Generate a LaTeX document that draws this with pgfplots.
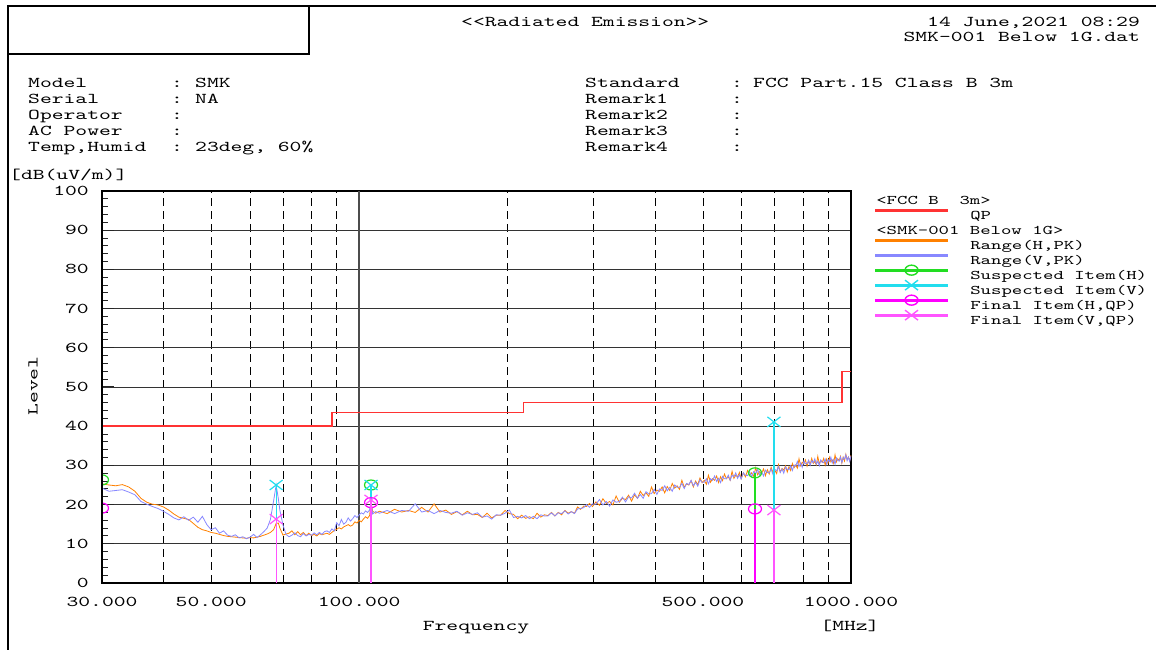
\documentclass[border=0pt]{standalone}
\usepackage{fontspec}
\usepackage{pgfplots}
\pgfplotsset{compat=1.18}
\usepackage{pgfplotstable}
\newfontfamily\monofont{lmmono10-regular.otf}[FakeStretch=1.5]
\newcommand\fA{\monofont\fontsize{15}{16}\selectfont}
\newcommand\fL{\monofont\fontsize{13.2}{15}\selectfont}
\definecolor{cH}{HTML}{FF8000}
\definecolor{cV}{HTML}{8888FF}
\definecolor{cLim}{HTML}{FF3333}
\definecolor{cSH}{HTML}{22DD22}
\definecolor{cSV}{HTML}{22DDEE}
\definecolor{cFH}{HTML}{FF00FF}
\definecolor{cFV}{HTML}{FF55FF}
\pgfdeclareplotmark{eo}{%
  \pgfpathellipse{\pgfpointorigin}{\pgfpoint{1.3\pgfplotmarksize}{0pt}}{\pgfpoint{0pt}{\pgfplotmarksize}}%
  \pgfusepathqstroke}
\pgfdeclareplotmark{ex}{%
  \pgfpathmoveto{\pgfpoint{-1.3\pgfplotmarksize}{-\pgfplotmarksize}}%
  \pgfpathlineto{\pgfpoint{1.3\pgfplotmarksize}{\pgfplotmarksize}}%
  \pgfpathmoveto{\pgfpoint{-1.3\pgfplotmarksize}{\pgfplotmarksize}}%
  \pgfpathlineto{\pgfpoint{1.3\pgfplotmarksize}{-\pgfplotmarksize}}%
  \pgfusepathqstroke}

\pgfplotstableread{
f h v
30 25.3 24.2
31 25.0 23.4
32 24.8 23.6
33 25.1 23.8
34 24.5 23.2
35 23.4 22.5
36 21.6 20.8
37 20.6 20.1
38 20.1 19.5
39 19.9 19.0
40 19.4 18.3
41 18.6 17.5
42 17.6 16.6
43 16.8 16.1
44 16.5 16.9
45 16.2 16.0
46 15.2 16.8
47 14.2 15.5
48 13.6 17.0
49 13.3 14.9
50 12.9 13.6
51 12.7 14.1
52 12.4 12.7
53 12.1 13.3
54 11.9 12.2
55 11.8 11.9
56 11.7 12.3
57 11.6 11.5
58 11.5 11.8
59 11.4 11.3
60 11.6 11.7
61 11.5 12.4
62 11.7 11.6
63 11.9 12.3
64 12.2 13.1
65 12.5 14.0
66 12.9 16.2
67 13.6 21.0
67.8 15.2 25.0
68.5 15.3 21.5
69 14.0 18.5
70 12.2 14.8
71 12.5 12.4
72 12.7 11.8
73 13.3 12.2
74 12.3 12.8
75 13.1 12.1
76 12.3 11.8
77 12.9 12.6
78 12.1 12.0
79 12.7 12.4
80 12.1 12.2
81 12.4 12.8
82 12.0 12.3
83 12.6 12.9
84 12.3 12.4
85 12.5 13.1
86 12.7 13.3
87 12.4 12.9
88 12.9 13.8
89 13.4 13.3
90 13.7 15.4
91 14.1 14.6
92 13.8 16.2
93 14.3 15.0
94 14.6 15.5
95 14.9 16.6
96 14.5 15.8
97 14.8 16.4
98 15.6 17.2
99 15.3 16.7
100 16.0 17.4
101 15.6 17.9
102 16.3 17.6
103 16.9 18.4
104 16.5 18.0
105 17.2 18.6
105.7 20.5 21.0
106.5 18.3 17.6
108 17.8 18.2
110 18.3 17.8
114 17.7 18.5
118 18.8 17.7
122 18.1 18.5
126 18.5 18.3
130 18.0 20.2
134 19.3 18.1
138 18.1 18.5
142 20.2 17.7
146 18.1 18.5
150 18.6 18.0
154 17.5 17.8
158 18.2 18.3
162 17.4 17.3
166 18.3 17.9
170 17.4 17.5
174 17.5 17.9
178 16.7 16.8
182 17.8 17.1
186 16.6 16.3
190 17.3 17.4
194 17.3 17.3
198 18.5 17.8
202 17.7 18.6
206 17.5 16.7
210 16.4 17.0
214 17.3 16.6
218 16.5 17.2
222 16.9 16.4
226 16.4 17.0
230 17.8 16.4
234 16.8 17.4
238 17.4 17.1
242 17.2 17.1
246 18.0 17.9
250 17.1 17.1
254 18.0 17.9
258 17.4 17.7
262 18.5 18.4
266 17.8 17.6
270 18.2 18.2
274 17.8 17.7
278 19.4 18.9
282 18.8 19.0
286 19.6 19.2
290 19.5 20.0
294 20.3 19.3
298 19.5 20.2
303 20.7 20.1
308 19.8 21.3
313 21.5 19.9
318 20.3 20.8
323 20.8 19.6
328 19.9 21.2
333 22.2 20.6
338 20.6 20.8
343 21.6 21.9
348 21.3 20.7
353 22.4 22.0
358 20.9 21.7
363 22.5 22.9
368 21.6 21.6
373 23.4 22.6
378 22.3 21.6
383 23.0 23.3
388 22.1 22.7
393 24.5 22.8
398 22.8 23.9
403 23.7 22.6
408 23.4 24.0
413 24.5 23.6
418 23.0 24.8
423 24.6 23.5
428 23.6 24.4
433 25.4 23.4
438 24.2 25.0
443 24.8 24.4
448 23.9 24.4
453 26.2 25.4
458 24.4 24.1
463 25.3 25.4
468 25.0 25.1
473 26.1 26.2
478 24.5 24.8
483 26.0 25.7
488 25.1 24.7
493 26.8 26.3
498 25.6 25.7
503 26.2 25.7
508 25.2 26.6
513 27.5 25.3
518 25.7 26.6
523 26.6 26.2
528 26.2 27.3
533 27.3 25.9
538 25.6 26.7
543 27.1 25.6
548 26.1 27.2
553 27.8 26.6
558 26.6 26.6
563 27.1 27.5
568 26.2 26.2
573 28.5 27.5
578 26.7 27.1
583 27.5 28.1
588 27.1 26.7
593 28.2 27.6
598 26.6 26.5
604 28.1 28.1
610 27.1 27.5
616 28.7 27.4
622 27.5 28.4
628 28.1 27.1
634 27.2 28.4
640 29.4 27.9
646 27.6 29.0
652 28.4 27.5
658 28.0 28.4
664 29.1 27.3
670 27.4 28.8
676 28.9 28.2
682 27.8 28.1
688 29.5 29.1
694 28.2 27.7
700 28.8 29.0
706 27.9 28.6
712 30.2 29.7
718 28.3 28.2
724 29.2 29.1
730 28.8 28.0
736 29.9 29.6
742 28.3 29.0
748 29.7 28.9
754 28.7 29.9
760 30.5 28.7
766 29.4 30.1
772 30.1 29.8
778 29.3 31.0
784 31.7 29.7
790 29.9 30.6
796 30.8 29.5
802 30.4 31.1
808 31.4 30.4
814 29.8 30.4
820 31.2 31.3
826 30.2 30.0
832 31.8 31.2
838 30.5 30.7
844 31.0 31.7
850 30.1 30.3
856 32.3 31.1
862 30.4 29.9
868 31.2 31.4
874 30.8 30.8
880 31.8 30.7
886 30.1 31.6
892 31.6 30.3
898 30.5 31.5
904 32.1 31.0
910 30.9 32.1
916 31.4 30.6
922 30.5 31.5
928 32.7 30.3
934 30.9 31.9
940 31.7 31.2
946 31.2 31.1
952 32.3 32.1
958 30.6 30.7
964 32.1 32.0
970 31.1 31.6
976 32.8 32.7
982 31.5 31.2
988 32.1 32.1
994 31.2 31.0
1000 32.6 32.5
}\trace

\pgfplotstableread{
f l
30 40
88 40
88 43.5
216 43.5
216 46
960 46
960 54
1000 54
}\limitqp

\pgfplotstableread{
f y
30 26.3
105.7 25.0
638 28.1
}\susH
\pgfplotstableread{
f y
67.8 25.0
105.7 25.0
697 41.1
}\susV
\pgfplotstableread{
f y
30 19.1
105.7 20.5
638 18.9
}\finH
\pgfplotstableread{
f y
67.8 16.3
105.7 21.2
697 18.6
}\finV

\begin{document}
\begin{tikzpicture}
\path[use as bounding box] (0pt,0pt) rectangle (1156pt,650pt);
\draw[line width=1.2pt] (8pt,0pt) -- (8pt,644pt) -- (1156pt,644pt);
\draw[line width=1.2pt] (8pt,644pt) rectangle (309pt,596pt);
\node[anchor=base west, inner sep=0] at (461pt,623pt) {\fA <\kern0pt<Radiated Emission>\kern0pt>};
\node[anchor=base east, inner sep=0] at (1140pt,623pt) {\fA 14 June,2021 08:29};
\node[anchor=base east, inner sep=0] at (1140pt,608pt) {\fA SMK-001 Below 1G.dat};
\foreach \yy/\lab/\val in {562/Model/SMK, 546/Serial/NA, 530/Operator/{}, 514/AC Power/{}, 498/{Temp,Humid}/{23deg, 60\%}} {
  \node[anchor=base west, inner sep=0] at (28pt,\yy pt) {\fA \lab};
  \node[anchor=base west, inner sep=0] at (171pt,\yy pt) {\fA :};
  \node[anchor=base west, inner sep=0] at (195pt,\yy pt) {\fA \val};
}
\foreach \yy/\lab/\val in {562/Standard/{FCC Part.15 Class B 3m}, 546/Remark1/{}, 530/Remark2/{}, 514/Remark3/{}, 498/Remark4/{}} {
  \node[anchor=base west, inner sep=0] at (585pt,\yy pt) {\fA \lab};
  \node[anchor=base west, inner sep=0] at (731pt,\yy pt) {\fA :};
  \node[anchor=base west, inner sep=0] at (753pt,\yy pt) {\fA \val};
}
\node[anchor=base west, inner sep=0] at (9pt,470pt) {\fA [dB(uV/m)]};
\node[rotate=90, inner sep=0] at (33pt,264pt) {\fA Level};
\node[anchor=base, inner sep=0] at (476pt,19pt) {\fA Frequency};
\node[anchor=base, inner sep=0] at (850pt,19pt) {\fA [MHz]};

\begin{axis}[
  at={(102pt,67pt)}, anchor=south west,
  scale only axis, width=749pt, height=392pt,
  xmode=log, xmin=30, xmax=1000, ymin=0, ymax=100,
  xtick={30,50,100,500,1000},
  xticklabels={30.000,50.000,100.000,500.000,1000.000},
  minor xtick={40,50,60,70,80,90,200,300,400,500,600,700,800,900},
  xminorgrids=true, xmajorgrids=false,
  minor x grid style={black, line width=0.9pt, dash pattern=on 8pt off 5pt},
  xtick style={draw=none},
  ytick={0,10,...,100},
  minor y tick num=4,
  ymajorgrids=true,
  major y grid style={black!80, line width=0.9pt},
  tick align=inside,
  ytick pos=left, xtick pos=bottom,
  ytick style={black!85, line width=1pt},
  major tick length=12pt, minor tick length=6pt,
  extra x ticks={100},
  extra x tick labels={},
  extra x tick style={xmajorgrids=true, major x grid style={black!70, line width=1.8pt}},
  axis line style={black, line width=1.5pt},
  /pgf/number format/assume math mode=true,
  yticklabel style={font=\fA, anchor=east, inner sep=0pt, xshift=-13pt},
  xticklabel style={font=\fA, anchor=north, inner sep=0pt, yshift=-14pt},
  clip marker paths=true,
  legend style={at={(1.0314,0.9950)}, anchor=north west, draw=none, fill=none,
    font=\fL, inner sep=0pt, row sep=0pt,
    /tikz/every odd column/.style={column sep=22pt},
    nodes={inner sep=0pt, text height=11pt, text depth=4pt}},
  legend cell align=left,
  legend image code/.code={%
    \path (0pt,4.7pt) rectangle (72pt,6.3pt);
    \draw[overlay, mark repeat=2, mark phase=2, #1] plot coordinates {(0pt,5.5pt) (36pt,5.5pt) (72pt,5.5pt)};},
]
\addplot[cH, line width=0.8pt, forget plot] table[x=f, y=h] {\trace};
\addplot[cV, line width=0.8pt, forget plot] table[x=f, y=v] {\trace};
\addplot[cLim, line width=1.6pt, forget plot] table[x=f, y=l] {\limitqp};
\addplot[ycomb, cSH, line width=1.2pt, mark=eo, mark size=5pt, forget plot] table[x=f, y=y] {\susH};
\addplot[ycomb, cSV, line width=1.2pt, mark=ex, mark size=5pt, forget plot] table[x=f, y=y] {\susV};
\addplot[ycomb, cFH, line width=1.2pt, mark=eo, mark size=5pt, forget plot] table[x=f, y=y] {\finH};
\addplot[ycomb, cFV, line width=1.2pt, mark=ex, mark size=5pt, forget plot] table[x=f, y=y] {\finV};

\addlegendimage{empty legend}\addlegendentry{\hspace*{-94pt}<FCC B\ \ 3m>}
\addlegendimage{cLim, line width=1.6pt}\addlegendentry{QP}
\addlegendimage{empty legend}\addlegendentry{\hspace*{-94pt}<SMK-001 Below 1G>}
\addlegendimage{cH, line width=0.9pt}\addlegendentry{Range(H,PK)}
\addlegendimage{cV, line width=0.9pt}\addlegendentry{Range(V,PK)}
\addlegendimage{cSH, line width=1.4pt, mark=eo, mark size=5pt}\addlegendentry{Suspected Item(H)}
\addlegendimage{cSV, line width=1.4pt, mark=ex, mark size=5pt}\addlegendentry{Suspected Item(V)}
\addlegendimage{cFH, line width=1.4pt, mark=eo, mark size=5pt}\addlegendentry{Final Item(H,QP)}
\addlegendimage{cFV, line width=1.4pt, mark=ex, mark size=5pt}\addlegendentry{Final Item(V,QP)}
\end{axis}
\draw[black, line width=1.5pt] (102pt,67pt) -- (102pt,459pt);
\end{tikzpicture}
\end{document}
